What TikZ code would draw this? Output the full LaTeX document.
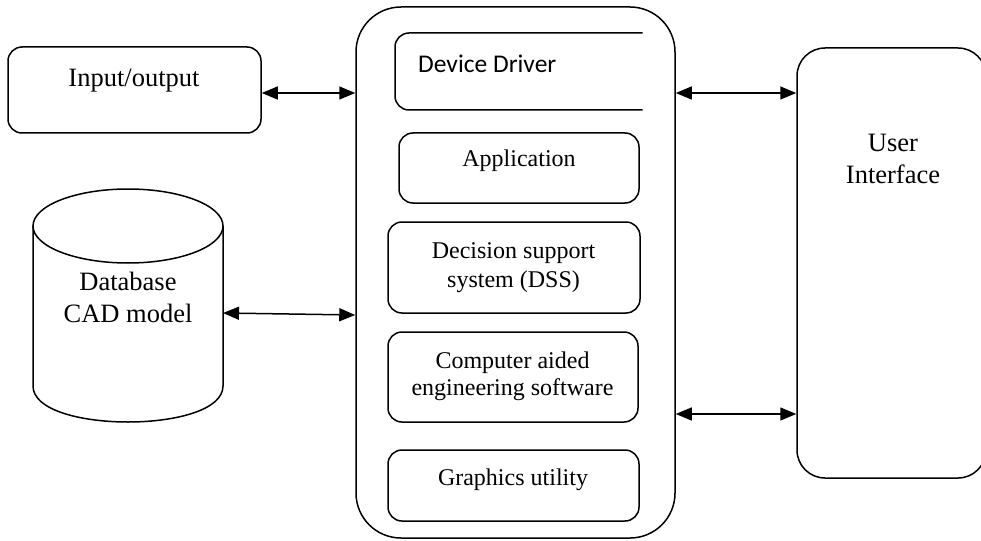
\documentclass[tikz,border=0pt]{standalone}
\usepackage{fontspec}
\setmainfont{Liberation Serif}
\newfontfamily\calibrifont{Carlito}
\usetikzlibrary{arrows.meta,calc}
\begin{document}
\begin{tikzpicture}[x=1pt,y=-1pt,
  rbox/.style={draw, line width=1.5pt, rounded corners=#1, inner sep=0pt},
  rbox/.default=14pt,
  lbl/.style={anchor=base, inner sep=0pt, font=\fontsize{24}{29}\selectfont},
  biglbl/.style={anchor=base, inner sep=0pt, font=\fontsize{26.5}{32}\selectfont},
  link/.style={line width=1.5pt, {Triangle[length=16pt,width=13pt]}-{Triangle[length=16pt,width=13pt]}}]
\clip (0,0) rectangle (981,540);
\useasboundingbox (0,0) rectangle (981,540);

% boxes
\node[rbox, minimum width=253, minimum height=86] (io) at (134.5,90) {};
\node[rbox=45pt, minimum width=319, minimum height=531] (main) at (515.5,272.5) {};
\begin{scope}
  \clip (380,20) rectangle (642.5,125);
  \node[rbox, minimum width=262, minimum height=77] (dd) at (526,71.5) {};
\end{scope}
\node[rbox, minimum width=240, minimum height=70] (app) at (519,168) {};
\node[rbox, minimum width=252, minimum height=91] (dss) at (514,267.5) {};
\node[rbox, minimum width=250, minimum height=90] (cae) at (513,377) {};
\node[rbox, minimum width=251, minimum height=71] (gfx) at (513.5,485.5) {};
\node[rbox=28pt, minimum width=189, minimum height=430] (ui) at (891.5,263) {};

% cylinder
\draw[line width=1.5pt] (128,226) ellipse [x radius=95, y radius=37];
\draw[line width=1.5pt] (33,226) -- (33,386) .. controls (33,434) and (223,434) .. (223,386) -- (223,226);
\coordinate (dbR) at (223,313);

% texts
\node[biglbl] (tio) at (134,87) {Input/output};
\node[anchor=base west, inner sep=0pt, font=\calibrifont\fontsize{25.5}{30}\selectfont] (tdd) at (418,73) {Device Driver};
\node[lbl] (tapp) at (519,167) {Application};
\node[lbl] (tdss1) at (513.5,258) {Decision support};
\node[lbl] (tdss2) at (513.5,287) {system (DSS)};
\node[lbl] (tcae1) at (512.5,368) {Computer aided};
\node[lbl] (tcae2) at (512.5,395) {engineering software};
\node[lbl] (tgfx) at (513,485) {Graphics utility};
\node[biglbl] (tdb1) at (128,290) {Database};
\node[biglbl] (tdb2) at (128,322) {CAD model};
\node[biglbl] (tui1) at (893,152) {User};
\node[biglbl] (tui2) at (893,183) {Interface};

% connectors
\coordinate (yA) at (0,93);
\coordinate (yB) at (0,315);
\coordinate (yC) at (0,414);
\draw[link] (io.east |- yA) -- (main.west |- yA);
\draw[link] (dbR) -- (main.west |- yB);
\draw[link] (main.east |- yA) -- (ui.west |- yA);
\draw[link] (main.east |- yC) -- (ui.west |- yC);
\end{tikzpicture}
\end{document}
